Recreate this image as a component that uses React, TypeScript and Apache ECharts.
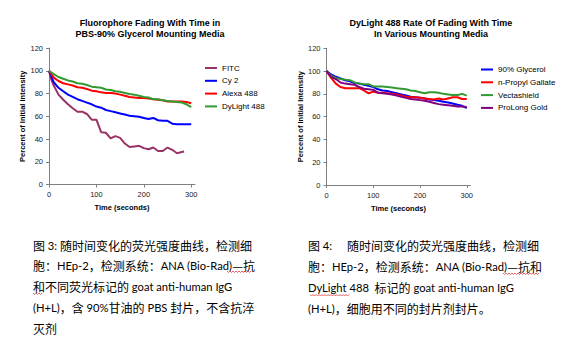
import React, { useEffect, useRef } from "react";
import * as echarts from "echarts";

// ---------- data ----------
const timeSec = [0, 10, 20, 30, 40, 50, 60, 70, 80, 90, 100, 110, 120, 130, 140, 150, 160, 170, 180, 190, 200, 210, 220, 230, 240, 250, 260, 270, 280, 290, 300];
const fitcTime = [0, 5, 10, 20, 30, 40, 50, 60, 70, 80, 90, 100, 110, 120, 130, 140, 150, 160, 170, 180, 190, 200, 210, 220, 230, 240, 250, 260, 270, 280, 285];

const fitc = [100, 92, 87, 79, 74.5, 70.5, 67, 64, 64, 62, 57, 57, 46, 45.5, 40.5, 42.5, 41, 36, 33, 33.5, 34, 32, 31, 32.5, 29.5, 29.5, 32.5, 30.5, 27.5, 28.5, 29];
const cy2 = [100, 90, 85, 82, 79, 77, 75, 73.5, 72, 70.5, 68.5, 67.5, 65.5, 64.5, 63.5, 62.5, 61.5, 60.5, 60, 59.5, 58.5, 57.5, 58.5, 56.5, 56, 56, 53.5, 53, 53, 53, 53];
const alexa488 = [100, 94, 91, 89, 88, 87, 85.5, 85, 84, 82.5, 82, 81, 80.5, 80.5, 80, 79, 78, 77, 76.5, 76, 76, 75.5, 75, 74.5, 74, 73, 73, 73, 73, 72.5, 71.5];
const dyLight488 = [100, 97, 94.5, 93, 91.5, 90.5, 89, 88.5, 87.5, 86, 85.5, 85, 83.5, 83, 82, 81.5, 80.5, 79.5, 79, 78, 77, 76.5, 75, 75, 74, 73.5, 73, 72.5, 72, 70.5, 68];

const glycerol90 = [100, 97, 95, 93.5, 92, 91, 89.5, 89, 88, 87, 86, 84, 83, 82.5, 81.5, 80.5, 79.5, 78.5, 77.5, 77, 76.5, 76, 75, 74.5, 74, 73, 72.5, 71.5, 70.5, 69.5, 67.5];
const nPropylGallate = [100, 94, 89, 86, 85, 85, 85, 85, 83, 80.5, 82, 81, 81, 80.5, 80, 79.5, 78.5, 77.5, 77, 77, 76.5, 76, 75.5, 75, 76, 75, 76, 77, 77, 75.5, 75.5];
const vectashield = [100, 96, 94, 93, 92.5, 92, 90, 89, 88.5, 88.5, 86.5, 86.5, 86.5, 86, 85.5, 85, 84.5, 84, 83, 82.5, 81.5, 80.5, 81.5, 81.5, 81, 80, 79.5, 79, 79, 80, 78.5];
const proLongGold = [100, 95, 93, 90, 89, 88.5, 88, 86, 84.5, 84, 83.5, 81, 80.5, 80, 79.5, 78.5, 77.5, 76.5, 75.5, 75, 74.5, 74, 73, 72, 71, 70.5, 70, 69.5, 69, 69, 68.5];

const xTickValues = [0, 100, 200, 300];
const leftNames = ["FITC", "Cy 2", "Alexa 488", "DyLight 488"];
const rightNames = ["90% Glycerol", "n-Propyl Gallate", "Vectashield", "ProLong Gold"];
const leftTitle = ["Fluorophore Fading With Time in", "PBS-90% Glycerol Mounting Media"];
const rightTitle = ["DyLight 488 Rate Of Fading With Time", "In Various Mounting Media"];
const xAxisName = "Time (seconds)";
const yAxisName = "Percent of Initial Intensity";

const leftCaption = [
  "图 3: 随时间变化的荧光强度曲线，检测细",
  "胞：HEp-2，检测系统：ANA (Bio-Rad)—抗",
  "和不同荧光标记的 goat anti-human IgG",
  "(H+L)，含 90%甘油的 PBS 封片，不含抗淬",
  "灭剂",
];
const rightCaption = [
  "图 4:　 随时间变化的荧光强度曲线，检测细",
  "胞：HEp-2，检测系统：ANA (Bio-Rad)—抗和",
  "DyLight 488  标记的 goat anti-human IgG",
  "(H+L)，细胞用不同的封片剂封片。",
];

const ARIAL = "'Liberation Sans', Arial, sans-serif";
const CJK_FONT = "'Noto Sans CJK SC', sans-serif";
const LATIN_FONT = "Lato, 'Noto Sans CJK SC', sans-serif";

function zip(xs: number[], ys: number[]) {
  return xs.map((x, i) => [x, ys[i]]);
}

// split a caption line into rich-text runs: CJK runs vs Latin runs
function toRich(line: string) {
  const isCjk = (ch: string) => /[\u2014\u3000-\u303f\u4e00-\u9fff\uff00-\uffef]/.test(ch);
  let out = "";
  let cur = "";
  let curCjk: boolean | null = null;
  for (const ch of line) {
    const c = isCjk(ch);
    if (curCjk === null || c === curCjk) {
      cur += ch;
    } else {
      out += `{${curCjk ? "c" : "l"}|${cur}}`;
      cur = ch;
    }
    curCjk = c;
  }
  if (cur) out += `{${curCjk ? "c" : "l"}|${cur}}`;
  return out;
}

function squiggle(x0: number, x1: number, y: number) {
  const pts: number[][] = [];
  let up = true;
  for (let x = x0; x <= x1; x += 1.5) {
    pts.push([x, up ? y : y + 1.5]);
    up = !up;
  }
  return {
    type: "polyline",
    silent: true,
    shape: { points: pts },
    style: { stroke: "#e03a3a", lineWidth: 0.8, fill: null },
  };
}

export default function App() {
  const ref = useRef<HTMLDivElement>(null);

  useEffect(() => {
    if (!ref.current) return;
    const chart = echarts.init(ref.current, undefined, { renderer: "svg" });

    const axisLine = { show: true, lineStyle: { color: "#808080", width: 1 } };
    const mkX = (gridIndex: number) => ({
      type: "value",
      gridIndex,
      min: 0,
      max: 308,
      splitLine: { show: false },
      axisLine,
      axisTick: { show: true, inside: false, length: 3, lineStyle: { color: "#808080" }, customValues: xTickValues },
      axisLabel: { customValues: xTickValues, margin: 6, fontSize: 7.5, fontFamily: ARIAL, color: "#222" },
      name: xAxisName,
      nameLocation: "middle",
      nameGap: 19,
      nameTextStyle: { fontSize: 7.5, fontWeight: "bold", fontFamily: ARIAL, color: "#000" },
    });
    const mkY = (gridIndex: number) => ({
      type: "value",
      gridIndex,
      min: 0,
      max: 120,
      interval: 20,
      splitLine: { show: false },
      axisLine,
      axisTick: { show: true, inside: false, length: 3, lineStyle: { color: "#808080" } },
      axisLabel: { margin: 6, fontSize: 7.5, fontFamily: ARIAL, color: "#222" },
      name: yAxisName,
      nameLocation: "middle",
      nameGap: 22,
      nameTextStyle: { fontSize: 7.5, fontWeight: "bold", fontFamily: ARIAL, color: "#000" },
    });

    const mkLine = (name: string, xs: number[], ys: number[], color: string, idx: number) => ({
      type: "line",
      name,
      xAxisIndex: idx,
      yAxisIndex: idx,
      data: zip(xs, ys),
      showSymbol: false,
      symbol: "none",
      color,
      lineStyle: { color, width: 2 },
    });

    const legendBase = {
      orient: "vertical",
      icon: "rect",
      itemWidth: 12,
      itemHeight: 2,
      itemGap: 2.8,
      padding: 0,
      textStyle: { fontSize: 8, lineHeight: 10, fontFamily: ARIAL, color: "#000" },
    };

    const titleEls: any[] = [];
    [
      { lines: leftTitle, cx: 150 },
      { lines: rightTitle, cx: 431 },
    ].forEach((t) => {
      t.lines.forEach((line, i) => {
        titleEls.push({
          type: "text",
          x: t.cx,
          y: 22.5 + i * 11.3,
          style: {
            text: line,
            fontSize: 9,
            fontWeight: "bold",
            fontFamily: ARIAL,
            fill: "#000",
            textAlign: "center",
            textVerticalAlign: "middle",
            align: "center",
            verticalAlign: "middle",
          },
        });
      });
    });

    const richStyles = {
      c: { fontFamily: CJK_FONT, fontSize: 12, fill: "#000", color: "#000" },
      l: { fontFamily: LATIN_FONT, fontSize: 11.2, fill: "#000", color: "#000" },
    };
    const captionEl = (line: string, x: number, y: number) => ({
      type: "text",
      x,
      y,
      style: {
        text: toRich(line),
        rich: richStyles,
        fontSize: 12,
        fontFamily: CJK_FONT,
        fill: "#000",
        textVerticalAlign: "middle",
        verticalAlign: "middle",
      },
    });

    const captionEls: any[] = [];
    const leftY = [245, 265.5, 286, 307, 328];
    leftCaption.forEach((line, i) => captionEls.push(captionEl(line, 33, leftY[i])));
    const rightY = [245, 266, 287, 308];
    rightCaption.forEach((line, i) => captionEls.push(captionEl(line, 308, rightY[i])));

    const squiggles = [
      squiggle(227, 252, 271),
      squiggle(33, 43, 293),
      squiggle(503, 540, 273),
      squiggle(310, 350, 294.5),
    ];

    chart.setOption({
      animation: false,
      backgroundColor: "#fff",
      grid: [
        { left: 49, top: 48, width: 146, height: 136.5, containLabel: false },
        { left: 326.5, top: 48.3, width: 144, height: 136.7, containLabel: false },
      ],
      xAxis: [mkX(0), mkX(1)],
      yAxis: [mkY(0), mkY(1)],
      legend: [
        { ...legendBase, left: 205, top: 63, data: leftNames },
        { ...legendBase, left: 481, top: 64.5, data: rightNames },
      ],
      series: [
        mkLine(leftNames[0], fitcTime, fitc, "#993366", 0),
        mkLine(leftNames[1], timeSec, cy2, "#0000ff", 0),
        mkLine(leftNames[2], timeSec, alexa488, "#ff0000", 0),
        mkLine(leftNames[3], timeSec, dyLight488, "#339933", 0),
        mkLine(rightNames[0], timeSec, glycerol90, "#0000ff", 1),
        mkLine(rightNames[1], timeSec, nPropylGallate, "#ff0000", 1),
        mkLine(rightNames[2], timeSec, vectashield, "#339933", 1),
        mkLine(rightNames[3], timeSec, proLongGold, "#800080", 1),
      ],
      graphic: [...titleEls, ...captionEls, ...squiggles],
    });

    return () => chart.dispose();
  }, []);

  return (
    <div
      ref={ref}
      style={{ position: "fixed", left: 0, top: 0, width: 578, height: 355, background: "#fff" }}
    />
  );
}
